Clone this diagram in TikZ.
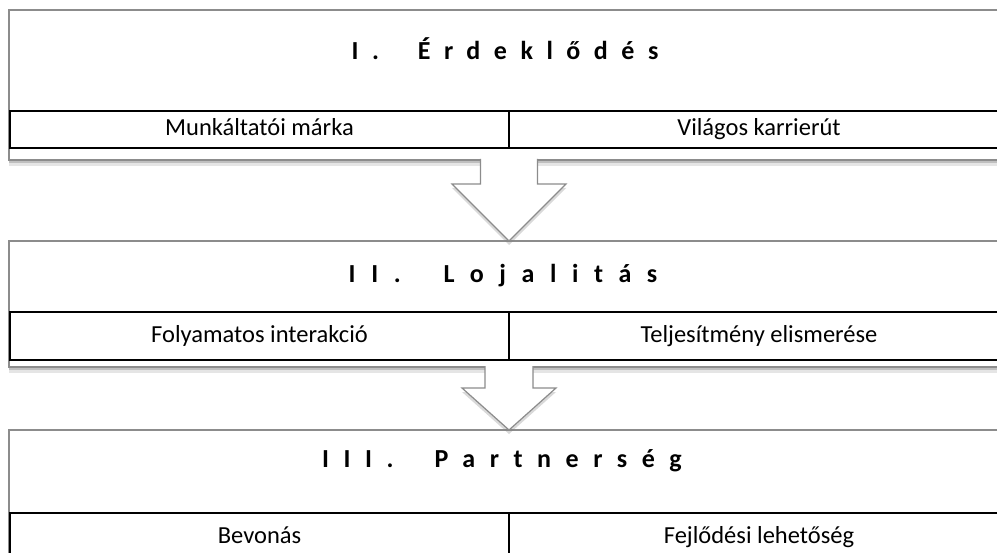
\documentclass[tikz,border=0pt]{standalone}
\usepackage{fontspec}
\setmainfont{Carlito}
\usepackage{tikz}
\usetikzlibrary{calc,shadows}

\definecolor{boxgray}{RGB}{140,140,140}

\tikzset{
	stagebox/.style={fill=white, anchor=north west, inner sep=0pt, outer sep=0pt, minimum width=988pt},
	stageline/.style={draw=boxgray, line width=1.2pt},
	partbox/.style={draw=black, line width=1.3pt, fill=white, anchor=north west,
		inner sep=0pt, outer sep=0pt, text height=19pt, text depth=6pt, font=\fontsize{24.5}{29}\selectfont},
	partopen/.style={partbox, draw=none, fill=none},
	partline/.style={draw=black, line width=1.3pt},
	stagetitle/.style={anchor=base, inner sep=0pt,
		font=\fontsize{26}{30}\selectfont\bfseries\addfontfeature{LetterSpace=#1}},
	blockarrow/.style={draw=boxgray, line width=1.2pt, fill=white, line join=miter,
		drop shadow={shadow xshift=0pt, shadow yshift=-4pt, opacity=0.3}}
}

\begin{document}
\begin{tikzpicture}[x=1pt,y=-1pt]
	\useasboundingbox (0,0) rectangle (998,553);

	% I. szint
	\node[stagebox, minimum height=150pt] (erdek) at (9,10) {};
	\node[stagetitle=52] (erdekT) at (505,60) {I.\ \ Érdeklődés};

	% II. szint
	\node[stagebox, minimum height=126pt] (lojal) at (9,241) {};
	\node[stagetitle=60] (lojalT) at (503,283) {II.\ \ Lojalitás};

	% III. szint
	\node[stagebox, minimum height=140pt] (partner) at (9,430) {};
	\node[stagetitle=56] (partnerT) at (502,467) {III.\ \ Partnerség};

	% keretek es arnyek
	\foreach \s in {erdek,lojal,partner} {
		\fill[black!25] (\s.south west) rectangle ($(\s.south east)+(0,3)$);
		\fill[black!10] ($(\s.south west)+(0,3)$) rectangle ($(\s.south east)+(0,6)$);
		\draw[stageline] (\s.north east) -| (\s.south west) -- (\s.south east);
	}

	% alsó dobozok
	\node[partbox, minimum width=499pt, minimum height=37pt] (marka) at (10,111) {Munkáltatói márka};
	\node[partopen, minimum width=500pt, minimum height=37pt] (karrier) at (509,111) {Világos karrierút};
	\node[partbox, minimum width=499pt, minimum height=48pt] (interakcio) at (10,312) {Folyamatos interakció};
	\node[partopen, minimum width=500pt, minimum height=48pt] (elismeres) at (509,312) {Teljesítmény elismerése};
	\node[partbox, minimum width=499pt, minimum height=48pt] (bevonas) at (10,513) {Bevonás};
	\node[partopen, minimum width=500pt, minimum height=48pt] (fejlodes) at (509,513) {Fejlődési lehetőség};
	\foreach \p in {karrier,elismeres,fejlodes}
		\draw[partline] ($(\p.north west)+(488,0)$) -- (\p.north west) -- (\p.south west) -- ++(488,0);

	% nyilak
	\path[blockarrow] ($(marka.south east)+(-28.5,11)$) |- ($(marka.south east)+(-57,36)$)
		-- (lojal.north -| marka.east) -- ($(marka.south east)+(57,36)$) -| ($(marka.south east)+(28.5,11)$);
	\path[blockarrow] ($(interakcio.south east)+(-24,6)$) |- ($(interakcio.south east)+(-47,28)$)
		-- (partner.north -| interakcio.east) -- ($(interakcio.south east)+(47,28)$) -| ($(interakcio.south east)+(24,6)$);
\end{tikzpicture}
\end{document}
